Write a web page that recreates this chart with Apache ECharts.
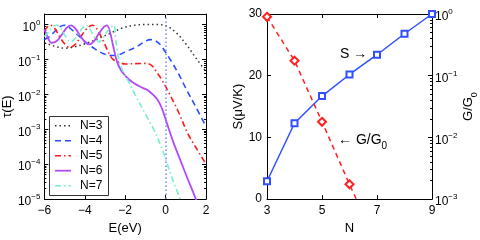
<!DOCTYPE html>
<html><head><meta charset="utf-8">
<script src="https://cdn.jsdelivr.net/npm/echarts@6/dist/echarts.min.js"></script>
<style>html,body{margin:0;padding:0;background:#fff}#c{width:480px;height:240px}</style>
</head><body><div id="c"></div>
<script>
// ---- Left panel: transmission tau(E) ----
const E_N3 = [-6,-5.5,-5,-4.5,-4,-3.5,-3,-2.5,-2,-1.5,-1,-0.5,0,0.5,1,1.5,2];
const T_N3 = [0.30,0.24,0.21,0.23,0.28,0.36,0.48,0.65,0.84,0.96,1.0,1.0,0.93,0.6,0.28,0.11,0.045];

const E_N4 = [-6,-5.75,-5.5,-5.25,-5.0,-4.75,-4.5,-4.25,-4,-3.5,-3,-2.65,-2.25,-2,-1.5,-1,-0.75,-0.5,-0.25,0,0.3,0.6,1,1.5,2];
const T_N4 = [0.37,0.45,0.62,0.85,0.95,0.8,0.6,0.45,0.33,0.2,0.14,0.13,0.14,0.165,0.22,0.33,0.37,0.34,0.26,0.16,0.085,0.043,0.015,0.0043,0.0012];

const E_N5 = [-6,-5.85,-5.7,-5.5,-5.25,-5,-4.75,-4.5,-4.25,-4,-3.75,-3.6,-3.4,-3.1,-2.8,-2.6,-2.3,-2,-1.5,-1.0,-0.7,-0.4,-0.2,0.1,0.6,1.1,1.5,2];
const T_N5 = [0.65,0.85,0.95,0.8,0.45,0.28,0.22,0.26,0.4,0.65,0.9,0.95,0.75,0.35,0.15,0.1,0.082,0.074,0.076,0.077,0.068,0.04,0.027,0.013,0.0035,0.00075,0.0003,0.0001];

const E_N6 = [-6,-5.85,-5.65,-5.4,-5.15,-4.9,-4.68,-4.45,-4.2,-3.95,-3.78,-3.55,-3.3,-3.05,-2.9,-2.75,-2.6,-2.4,-2.17,-1.85,-1.52,-1.2,-0.88,-0.6,-0.39,-0.2,-0.05,0.1,0.4,0.74,1.1,1.47,1.7];
const T_N6 = [0.73,0.45,0.3,0.33,0.5,0.8,0.95,0.75,0.45,0.3,0.27,0.33,0.55,0.85,0.95,0.6,0.25,0.085,0.045,0.028,0.02,0.016,0.013,0.0095,0.0069,0.0042,0.0024,0.0013,0.0004,0.000126,0.000037,0.000011,0.000005];

const E_N7 = [-6,-5.8,-5.6,-5.4,-5.2,-5,-4.7,-4.4,-4.15,-3.95,-3.75,-3.55,-3.3,-3.05,-2.8,-2.57,-2.45,-2.3,-2.1,-1.93,-1.52,-1.04,-0.55,-0.2,0.09,0.4,0.66,0.8];
const T_N7 = [0.45,0.6,0.85,0.95,0.8,0.5,0.32,0.45,0.75,0.95,0.75,0.45,0.32,0.45,0.75,0.95,0.3,0.09,0.045,0.03,0.01,0.003,0.0009,0.0003,0.0001,0.00003,0.0000125,0.000007];

const legendNames = ['N=3','N=4','N=5','N=6','N=7'];
const fermiE = 0;

// ---- Right panel: thermopower S and conductance G/G0 vs N ----
const N_vals = [3,4,5,6,7,8,9];
const S_vals = [2.9,12.3,16.7,20.2,23.4,26.8,30];
const G_N = [3,4,5,6,7];
const G_vals = [0.9,0.175,0.0179,0.00174,0.00018];

const FONT = 'Liberation Sans';
const pair = (xs, ys) => xs.map((x,i)=>[x, ys[i]]);
const minus = s => String(s).replace('-', '\u2212');
function logFmt(v){
  const l = Math.log10(v), e = Math.round(l);
  if (Math.abs(l-e) > 1e-6) return '';
  return '{b|10}{s|' + minus(e) + '}';
}
const logRich = {
  b:{fontSize:12, fontFamily:FONT, color:'#000', lineHeight:12, padding:[3,0,0,0], verticalAlign:'top'},
  s:{fontSize:8, fontFamily:FONT, color:'#000', lineHeight:8, verticalAlign:'top'}
};
const axLine = {show:true, onZero:false, lineStyle:{color:'#000', width:1}};
const tickIn = {show:true, inside:true, length:4, lineStyle:{color:'#000'}};
const minorIn = {show:true, splitNumber:9, length:2, lineStyle:{color:'#000'}};
const lblStyle = {fontSize:12, fontFamily:FONT, color:'#000'};
const nameStyle = {fontSize:13, fontFamily:FONT, color:'#000'};

const styles = [
  {color:'#333', type:[1.5,3], width:1.5},
  {color:'#2a4bff', type:[6,4], width:1.6},
  {color:'#ff1a1a', type:[6,3,1.5,3], width:1.6},
  {color:'#b04aff', type:'solid', width:1.8},
  {color:'#74f0cc', type:[6,3,1.5,3], width:1.6}
];

const chart = echarts.init(document.getElementById('c'), null, {renderer:'canvas'});

function lineSeries(i, xs, ys){
  const st = styles[i];
  return {name:legendNames[i], type:'line', xAxisIndex:0, yAxisIndex:0, data:pair(xs,ys),
    showSymbol:false, symbol:'none', smooth:0.35, clip:true,
    lineStyle:{color:st.color, type:st.type, width:st.width}, itemStyle:{color:st.color}, z:3};
}

const s3 = lineSeries(0, E_N3, T_N3);
s3.markLine = {silent:true, symbol:'none', label:{show:false},
  lineStyle:{color:'#7788ff', type:[1.5,2.5], width:1.5},
  data:[{xAxis:fermiE}]};

// legend box (drawn as graphic so the sample lines keep their dash styles)
const legendGraphic = [{type:'rect', left:49, top:116, z:10,
  shape:{width:59, height:79}, style:{fill:'#fff', stroke:'#333', lineWidth:1}}];
const legendY = [125.7, 140.7, 155.7, 170.7, 185.7];
legendNames.forEach((nm,i)=>{
  const st = styles[i];
  legendGraphic.push({type:'line', z:11,
    shape:{x1:55, y1:legendY[i], x2:71, y2:legendY[i]},
    style:{stroke:st.color, lineWidth:st.width, lineDash:st.type==='solid'?null:st.type}});
  legendGraphic.push({type:'text', z:11, x:80, y:legendY[i],
    style:{text:nm, font:'12px ' + FONT, fill:'#000', verticalAlign:'middle', textVerticalAlign:'middle'}});
});

const option = {
  animation:false,
  backgroundColor:'#fff',
  textStyle:{fontFamily:FONT},
  grid:[
    {left:41, right:274, top:14, bottom:34},
    {left:267, right:48, top:14, bottom:34}
  ],
  xAxis:[
    {gridIndex:0, type:'value', min:-6, max:2, interval:2, position:'bottom',
     name:'E(eV)', nameLocation:'middle', nameGap:14, nameTextStyle:nameStyle,
     axisLine:axLine, axisTick:tickIn, splitLine:{show:false},
     axisLabel:Object.assign({margin:6, formatter:v=>minus(v)}, lblStyle)},
    {gridIndex:0, type:'value', min:-6, max:2, interval:2, position:'top',
     axisLine:axLine, axisTick:tickIn, axisLabel:{show:false}, splitLine:{show:false}},
    {gridIndex:1, type:'value', min:3, max:9, interval:2, position:'bottom',
     name:'N', nameLocation:'middle', nameGap:14, nameTextStyle:nameStyle,
     axisLine:axLine, axisTick:tickIn, splitLine:{show:false},
     axisLabel:Object.assign({margin:6}, lblStyle)},
    {gridIndex:1, type:'value', min:3, max:9, interval:2, position:'top',
     axisLine:axLine, axisTick:tickIn, axisLabel:{show:false}, splitLine:{show:false}}
  ],
  yAxis:[
    {gridIndex:0, type:'log', logBase:10, min:1e-5, max:2, position:'left',
     name:'\u03c4(E)', nameLocation:'middle', nameRotate:90, nameGap:26, nameTextStyle:nameStyle,
     axisLine:axLine, axisTick:tickIn, minorTick:minorIn, splitLine:{show:false}, minorSplitLine:{show:false},
     axisLabel:{formatter:logFmt, rich:logRich, margin:4}},
    {gridIndex:0, type:'log', logBase:10, min:1e-5, max:2, position:'right',
     axisLine:axLine, axisTick:tickIn, minorTick:minorIn, axisLabel:{show:false}, splitLine:{show:false}},
    {gridIndex:1, type:'value', min:0, max:30, interval:10, position:'left',
     name:'S(\u03bcV/K)', nameLocation:'middle', nameRotate:90, nameGap:15, nameTextStyle:nameStyle,
     axisLine:axLine, axisTick:tickIn, splitLine:{show:false},
     axisLabel:Object.assign({margin:5}, lblStyle)},
    {gridIndex:1, type:'log', logBase:10, min:1e-3, max:1, position:'right',
     name:'{n|G/G}{sub|0}', nameLocation:'middle', nameRotate:90, nameGap:30,
     nameTextStyle:{rich:{
       n:{fontSize:13, fontFamily:FONT, color:'#000', lineHeight:13, verticalAlign:'top'},
       sub:{fontSize:9, fontFamily:FONT, color:'#000', lineHeight:9, padding:[8,0,0,0], verticalAlign:'top'}}},
     axisLine:axLine, axisTick:tickIn, minorTick:minorIn, splitLine:{show:false},
     axisLabel:{formatter:logFmt, rich:logRich, margin:3}}
  ],
  series:[
    s3,
    lineSeries(1, E_N4, T_N4),
    lineSeries(2, E_N5, T_N5),
    lineSeries(3, E_N6, T_N6),
    lineSeries(4, E_N7, T_N7),
    {name:'S', type:'line', xAxisIndex:2, yAxisIndex:2, data:pair(N_vals,S_vals),
     symbol:'emptyRect', symbolSize:6, clip:false,
     lineStyle:{color:'#3050ff', width:1.5}, itemStyle:{color:'#3050ff', borderWidth:1.2}, z:4},
    {name:'G', type:'line', xAxisIndex:2, yAxisIndex:3, data:pair(G_N,G_vals),
     symbol:'emptyDiamond', symbolSize:8, clip:true,
     lineStyle:{color:'#ff2020', width:1.5, type:[5,4]}, itemStyle:{color:'#ff2020', borderWidth:1.5}, z:4}
  ],
  graphic:legendGraphic.concat([
    {type:'text', left:340, top:47, z:20,
     style:{text:'S \u2192', font:'14px ' + FONT, fill:'#000'}},
    {type:'text', left:338, top:133, z:20,
     style:{text:'{a|\u2190 G/G}{b|0}', rich:{
       a:{fontSize:14, fontFamily:FONT, fill:'#000', color:'#000', lineHeight:14, verticalAlign:'top'},
       b:{fontSize:10, fontFamily:FONT, fill:'#000', color:'#000', lineHeight:10, padding:[8,0,0,0], verticalAlign:'top'}}}}
  ])
};
chart.setOption(option);
</script>
</body></html>
